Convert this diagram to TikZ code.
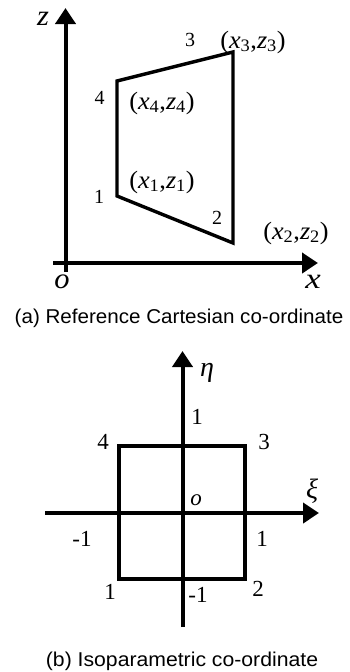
\documentclass[tikz,border=0pt]{standalone}
\usepackage{fontspec}
\setmainfont{Liberation Serif}
\newfontfamily\capfont{Liberation Sans}
\usetikzlibrary{arrows.meta}
\newcommand{\xzlab}[1]{(\textit{x}\textsubscript{#1},\textit{z}\textsubscript{#1})}
\begin{document}
\begin{tikzpicture}[x=1pt,y=-1pt,
  axis/.style={line width=4pt, -{Triangle[length=16pt,width=20pt]}},
  elem/.style={line width=3.4pt, line join=miter},
  lab/.style={inner sep=0pt, font=\fontsize{20}{20}\selectfont},
  blab/.style={inner sep=0pt, font=\fontsize{23}{23}\selectfont},
  clab/.style={inner sep=0pt, font=\fontsize{25}{25}\selectfont},
  vlab/.style={inner sep=0pt, font=\fontsize{29}{29}\selectfont\itshape},
  glab/.style={inner sep=0pt, font=\fontsize{28}{28}\selectfont\itshape},
  captext/.style={inner sep=0pt, anchor=base, font=\fontsize{20}{20}\selectfont\capfont},
]
\useasboundingbox (0,0) rectangle (349,672);

% ---------- (a) Cartesian ----------
\coordinate (zb) at (65.5,272);
\coordinate (zt) at (65.5,8);
\coordinate (xl) at (53,263);
\coordinate (xr) at (318,263);
\draw[axis] (zb) -- (zt);
\draw[axis] (xl) -- (xr);

\coordinate (p1) at (117,196);
\coordinate (p2) at (233,243);
\coordinate (p3) at (233,52);
\coordinate (p4) at (117,81);
\draw[elem] (p1) -- (p2) -- (p3) -- (p4) -- cycle;

\node[vlab] (zlab) at (43,19) {\scalebox{1.05}[1]{z}};
\node[vlab] (olab) at (62,282) {\scalebox{1.05}[1]{o}};
\node[vlab] (xlab) at (313,282) {\scalebox{1.2}[1]{x}};

\node[lab] (n3) at (190,40) {3};
\node[lab] (n4) at (99.5,98) {4};
\node[lab] (n1) at (99,197) {1};
\node[lab] (n2) at (217,218) {2};

\node[clab] (c3) at (253,42) {\scalebox{1.05}[1]{\xzlab{3}}};
\node[clab] (c4) at (162,103) {\scalebox{1.05}[1]{\xzlab{4}}};
\node[clab] (c1) at (162,182) {\scalebox{1.05}[1]{\xzlab{1}}};
\node[clab] (c2) at (296,233) {\scalebox{1.05}[1]{\xzlab{2}}};

\node[captext] (capa) at (179,323) {\scalebox{1.03}[1]{(a) Reference Cartesian co-ordinate}};

% ---------- (b) Isoparametric ----------
\coordinate (eb) at (182.5,627);
\coordinate (et) at (182.5,351);
\coordinate (xil) at (45,513);
\coordinate (xir) at (319,513);
\draw[axis] (eb) -- (et);
\draw[axis] (xil) -- (xir);

\coordinate (q1) at (119,579);
\coordinate (q2) at (245,579);
\coordinate (q3) at (245,446);
\coordinate (q4) at (119,446);
\draw[elem] (q1) -- (q2) -- (q3) -- (q4) -- cycle;

\node[glab] (etalab) at (207,373) {η};
\node[glab] (xilab) at (312,491) {ξ};
\node[inner sep=0pt, font=\fontsize{23}{23}\selectfont\itshape] (olab2) at (196,500) {o};

\node[blab] (m4) at (103,442) {4};
\node[blab] (m3) at (264,442) {3};
\node[blab] (m1) at (110,592) {1};
\node[blab] (m2) at (258,589) {2};
\node[blab] (etop) at (197,417) {1};
\node[blab] (ebot) at (198,595) {-1};
\node[blab] (xleft) at (82,539) {-1};
\node[blab] (xright) at (262,539) {1};

\node[captext] (capb) at (182,666) {\scalebox{1.06}[1]{(b) Isoparametric co-ordinate}};
\end{tikzpicture}
\end{document}
